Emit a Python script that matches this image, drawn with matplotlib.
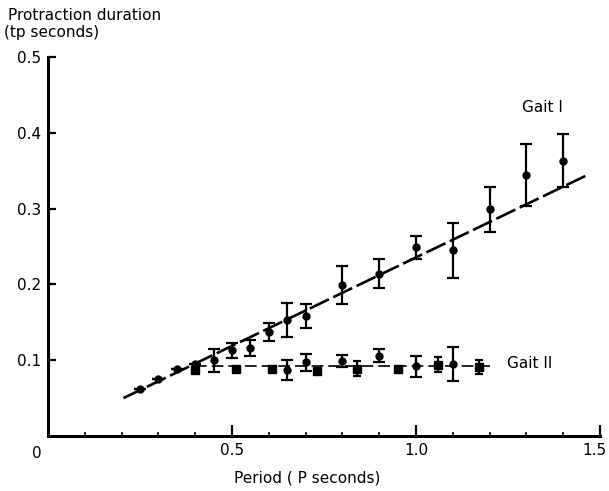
import numpy as np
import matplotlib
matplotlib.use("Agg")
import matplotlib.pyplot as plt
import matplotlib.transforms as mtransforms
from matplotlib.ticker import MultipleLocator

# Gait I: protraction duration vs period
gait1_x = [0.25, 0.30, 0.35, 0.40, 0.45, 0.50, 0.55, 0.60, 0.65, 0.70, 0.80, 0.90, 1.00, 1.10, 1.20, 1.30, 1.40]
gait1_y = [0.062, 0.075, 0.088, 0.095, 0.100, 0.113, 0.116, 0.137, 0.153, 0.158, 0.199, 0.214, 0.249, 0.245, 0.299, 0.344, 0.363]
gait1_err = [0, 0, 0, 0, 0.015, 0.010, 0.010, 0.012, 0.022, 0.016, 0.025, 0.019, 0.015, 0.036, 0.030, 0.041, 0.035]

# Gait II: circles with error bars
gait2c_x = [0.65, 0.70, 0.80, 0.90, 1.00, 1.10]
gait2c_y = [0.087, 0.097, 0.099, 0.106, 0.092, 0.095]
gait2c_err = [0.013, 0.011, 0.008, 0.009, 0.014, 0.022]

# Gait II: squares
gait2s_x = [0.40, 0.51, 0.61, 0.73, 0.84, 0.95, 1.06, 1.17]
gait2s_y = [0.087, 0.089, 0.089, 0.086, 0.089, 0.089, 0.094, 0.091]
gait2s_err = [0, 0, 0, 0, 0.010, 0, 0.010, 0.009]

# fitted lines
fit1_x = [0.205, 1.46]
fit1_y = [0.050, 0.343]
fit2_x = [0.40, 1.215]
fit2_y = [0.093, 0.093]

plt.rcParams["font.family"] = "DejaVu Sans"
fig = plt.figure(figsize=(6.09, 4.91), dpi=100)
ax = fig.add_axes([48 / 609, 1 - 436 / 491, 552 / 609, 379 / 491])

ax.plot(fit1_x, fit1_y, color="black", lw=1.9, dashes=(8, 1.8))
ax.plot(fit2_x, fit2_y, color="black", lw=1.2, dashes=(7, 3))

ax.errorbar(gait1_x, gait1_y, yerr=gait1_err, fmt="o", color="black", ms=5,
            elinewidth=1.6, capsize=4, capthick=1.6)
ax.errorbar(gait2c_x, gait2c_y, yerr=gait2c_err, fmt="o", color="black", ms=5,
            elinewidth=1.6, capsize=4, capthick=1.6)
ax.errorbar(gait2s_x, gait2s_y, yerr=gait2s_err, fmt="s", color="black", ms=6,
            elinewidth=1.6, capsize=3, capthick=1.6)

ax.text(1.288, 0.434, "Gait I", fontsize=11, va="center", ha="left")
ax.text(1.247, 0.096, "Gait II", fontsize=11, va="center", ha="left")

ax.set_xlim(0, 1.5)
ax.set_ylim(0, 0.5)
for s in ["top", "right"]:
    ax.spines[s].set_visible(False)
for s in ["left", "bottom"]:
    ax.spines[s].set_linewidth(2.2)

ax.set_xticks([0.5, 1.0, 1.5])
ax.set_xticklabels(["0.5", "1.0", "1.5"])
ax.xaxis.set_minor_locator(MultipleLocator(0.1))
ax.set_yticks([0.1, 0.2, 0.3, 0.4, 0.5])
ax.set_yticklabels(["0.1", "0.2", "0.3", "0.4", "0.5"])
ax.tick_params(axis="x", which="major", direction="in", length=8, width=1.6, labelsize=11, pad=5)
ax.tick_params(axis="x", which="minor", direction="in", length=3, width=1.2)
ax.tick_params(axis="y", which="major", direction="in", length=6, width=1.6, labelsize=11, pad=5)

# keep the last x label inside the figure
last = ax.get_xticklabels()[-1]
last.set_horizontalalignment("right")
last.set_transform(last.get_transform() + mtransforms.ScaledTranslation(6 / 100, 0, fig.dpi_scale_trans))

ax.text(-0.03, -0.045, "0", fontsize=11, ha="center", va="center",
        transform=ax.get_xaxis_transform())

fig.text(307 / 609, 1 - 478 / 491, "Period ( P seconds)", fontsize=11, ha="center", va="center")
fig.text(8 / 609, 1 - 15 / 491, "Protraction duration", fontsize=11, ha="left", va="center")
fig.text(4 / 609, 1 - 33 / 491, "(tp seconds)", fontsize=11, ha="left", va="center")

fig.savefig("out.png", dpi=100)
